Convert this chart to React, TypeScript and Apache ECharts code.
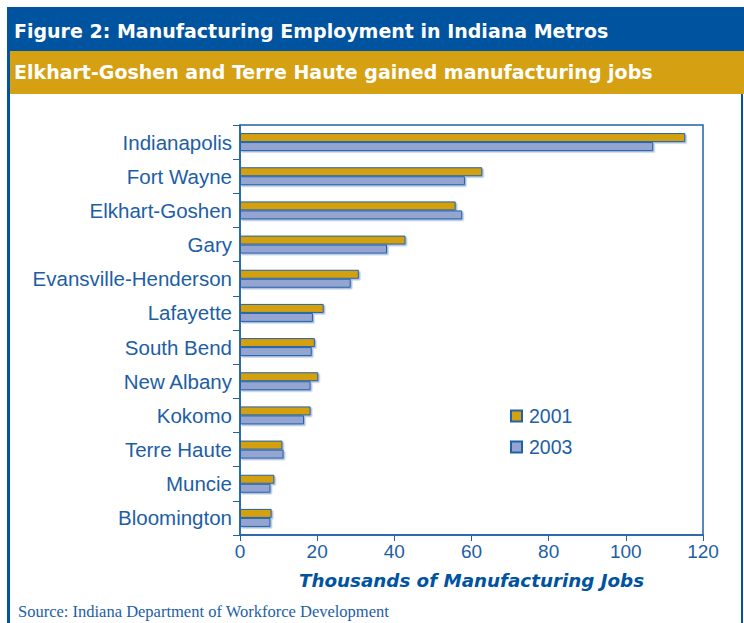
import React, { useEffect, useRef } from "react";
import * as echarts from "echarts";

const categories = [
  "Indianapolis",
  "Fort Wayne",
  "Elkhart-Goshen",
  "Gary",
  "Evansville-Henderson",
  "Lafayette",
  "South Bend",
  "New Albany",
  "Kokomo",
  "Terre Haute",
  "Muncie",
  "Bloomington",
];
const jobs2001 = [115.4, 62.8, 55.9, 42.9, 30.8, 21.7, 19.4, 20.3, 18.3, 11.0, 8.9, 8.2];
const jobs2003 = [107.1, 58.3, 57.6, 38.1, 28.7, 18.9, 18.6, 18.3, 16.6, 11.3, 7.9, 7.9];
const xTicks = [0, 20, 40, 60, 80, 100, 120];
const titleText = "Figure 2: Manufacturing Employment in Indiana Metros";
const subtitleText = "Elkhart-Goshen and Terre Haute gained manufacturing jobs";
const axisTitle = "Thousands of Manufacturing Jobs";
const sourceText = "Source: Indiana Department of Workforce Development";

const BLUE = "#00539f";
const TEXT_BLUE = "#1d5ea5";
const LINE_BLUE = "#1f62a8";
const GOLD = "#d5a011";
const PERI = "#94a5d2";

export default function App() {
  const ref = useRef<HTMLDivElement>(null);
  useEffect(() => {
    if (!ref.current) return;
    const chart = echarts.init(ref.current, null, { renderer: "svg" });
    const barShadow = {
      shadowColor: "rgba(130,160,205,0.7)",
      shadowOffsetX: 1.5,
      shadowOffsetY: 1.5,
      shadowBlur: 0,
    };
    chart.setOption({
      animation: false,
      backgroundColor: "#ffffff",
      grid: {
        left: 240,
        right: 41,
        top: 125,
        bottom: 88,
        show: true,
        borderColor: LINE_BLUE,
        borderWidth: 1.5,
        backgroundColor: "transparent",
      },
      xAxis: {
        type: "value",
        min: xTicks[0],
        max: xTicks[xTicks.length - 1],
        interval: 20,
        name: axisTitle,
        nameLocation: "middle",
        nameGap: 36,
        nameTextStyle: {
          fontFamily: "DejaVu Sans",
          fontWeight: "bold",
          fontStyle: "italic",
          fontSize: 18.3,
          color: BLUE,
        },
        axisLine: { show: true, lineStyle: { color: LINE_BLUE, width: 1.5 } },
        axisTick: { show: true, length: 6, lineStyle: { color: LINE_BLUE, width: 1 } },
        axisLabel: {
          margin: 7,
          fontFamily: "Liberation Sans",
          fontSize: 19,
          color: TEXT_BLUE,
        },
        splitLine: {
          show: true,
          lineStyle: {
            color: LINE_BLUE,
            width: 1,
            shadowColor: "rgba(150,180,220,0.8)",
            shadowOffsetX: 1,
            shadowBlur: 0,
          },
        },
      },
      yAxis: {
        type: "category",
        data: categories,
        inverse: true,
        axisLine: { show: true, lineStyle: { color: LINE_BLUE, width: 1.5 } },
        axisTick: { show: true, length: 7, lineStyle: { color: LINE_BLUE, width: 1 } },
        axisLabel: {
          margin: 8,
          fontFamily: "Liberation Sans",
          fontSize: 20.5,
          color: TEXT_BLUE,
        },
        splitLine: { show: false },
      },
      legend: {
        orient: "vertical",
        left: 503,
        top: 389,
        padding: [17, 14, 16, 7],
        backgroundColor: "#ffffff",
        itemWidth: 11,
        itemHeight: 11,
        itemGap: 11,
        icon: "rect",
        textStyle: {
          fontFamily: "Liberation Sans",
          fontSize: 19.5,
          color: TEXT_BLUE,
          padding: [0, 0, 0, 2],
        },
        data: ["2001", "2003"],
      },
      series: [
        {
          name: "2001",
          type: "bar",
          data: jobs2001,
          barWidth: 9,
          barGap: "0%",
          itemStyle: { color: GOLD, borderColor: LINE_BLUE, borderWidth: 1, ...barShadow },
        },
        {
          name: "2003",
          type: "bar",
          data: jobs2003,
          barWidth: 9,
          barGap: "0%",
          itemStyle: { color: PERI, borderColor: LINE_BLUE, borderWidth: 1, ...barShadow },
        },
      ],
      graphic: [
        { type: "rect", shape: { x: 7, y: 7, width: 737, height: 44 }, style: { fill: BLUE } },
        { type: "rect", shape: { x: 10, y: 51, width: 734, height: 43 }, style: { fill: GOLD } },
        { type: "rect", shape: { x: 7, y: 51, width: 3, height: 572 }, style: { fill: BLUE } },
        { type: "rect", shape: { x: 741, y: 94, width: 2, height: 529 }, style: { fill: BLUE } },
        {
          type: "text",
          x: 14,
          y: 31,
          style: {
            text: titleText,
            fill: "#ffffff",
            fontFamily: "DejaVu Sans",
            fontWeight: "bold",
            fontSize: 19,
            verticalAlign: "middle",
          },
        },
        {
          type: "text",
          x: 14,
          y: 72,
          style: {
            text: subtitleText,
            fill: "#ffffff",
            fontFamily: "DejaVu Sans",
            fontWeight: "bold",
            fontSize: 19,
            verticalAlign: "middle",
          },
        },
        {
          type: "text",
          x: 18,
          y: 611,
          style: {
            text: sourceText,
            fill: TEXT_BLUE,
            fontFamily: "Liberation Serif",
            fontSize: 16.5,
            verticalAlign: "middle",
          },
        },
      ],
    });
    return () => chart.dispose();
  }, []);
  return <div ref={ref} style={{ width: 744, height: 623, position: "absolute", left: 0, top: 0 }} />;
}
